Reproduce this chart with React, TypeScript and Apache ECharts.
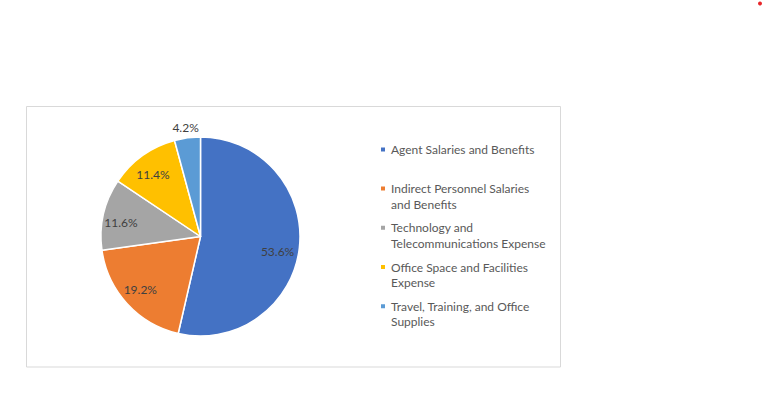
import React, { useEffect, useRef } from "react";
import * as echarts from "echarts";

const categories = [
  "Agent Salaries and Benefits",
  "Indirect Personnel Salaries and Benefits",
  "Technology and Telecommunications Expense",
  "Office Space and Facilities Expense",
  "Travel, Training, and Office Supplies",
];
const legendLines = [
  ["Agent Salaries and Benefits", " "],
  ["Indirect Personnel Salaries", "and Benefits"],
  ["Technology and", "Telecommunications Expense"],
  ["Office Space and Facilities", "Expense"],
  ["Travel, Training, and Office", "Supplies"],
];
const values = [53.6, 19.2, 11.6, 11.4, 4.2];
const colors = ["#4472C4", "#ED7D31", "#A5A5A5", "#FFC000", "#5B9BD5"];

const FONT = "Lato";
const LH = 15.6;
const CX = 200.5;
const CY = 236.5;
const R = 99.5;

export default function App() {
  const ref = useRef<HTMLDivElement>(null);
  useEffect(() => {
    if (!ref.current) return;
    const chart = echarts.init(ref.current, null, { renderer: "svg" });
    const data = categories.map((name, i) => ({
      name,
      value: values[i],
      itemStyle: { color: colors[i] },
    }));
    const labelFmt = (p: any) => p.value.toFixed(1) + "%";
    const clear = "rgba(255,255,255,0)";
    const labelStyle = {
      show: true,
      position: "inside",
      formatter: labelFmt,
      fontFamily: FONT,
      fontSize: 12,
      color: "#404040",
      offset: [0, 4],
    };
    const innerLabel = (i: number) => {
      if (i === 0) return { show: true, offset: [-4, 6] };
      if (i === 1) return { show: true, offset: [0, -2] };
      return { show: i < 4 };
    };
    chart.setOption({
      animation: false,
      backgroundColor: "#ffffff",
      graphic: [
        {
          type: "rect",
          shape: { x: 26.5, y: 106.5, width: 534, height: 260.5 },
          style: { fill: "none", stroke: "#d9d9d9", lineWidth: 1 },
          silent: true,
          z: -10,
        },
        {
          type: "circle",
          shape: { cx: 760, cy: 3.5, r: 2 },
          style: { fill: "#e8262a" },
          silent: true,
        },
      ],
      legend: {
        orient: "vertical",
        left: 379,
        top: 126,
        padding: 0,
        icon: "rect",
        itemWidth: 6,
        itemHeight: 6,
        itemGap: 39.2 - 3 * LH,
        selectedMode: false,
        textStyle: {
          fontFamily: FONT,
          fontSize: 12,
          color: "#595959",
          lineHeight: LH,
        },
        formatter: (name: string) =>
          [" "].concat(legendLines[categories.indexOf(name)]).join("\n"),
        data: categories,
      },
      series: [
        {
          type: "pie",
          center: [CX, CY],
          radius: [0, R],
          startAngle: 90,
          clockwise: true,
          silent: true,
          label: { show: false },
          labelLine: { show: false },
          itemStyle: { borderColor: "#ffffff", borderWidth: 1.5 },
          data,
        },
        {
          type: "pie",
          center: [CX, CY],
          radius: [R * 0.58, R],
          startAngle: 90,
          clockwise: true,
          silent: true,
          legendHoverLink: false,
          itemStyle: { color: clear },
          label: labelStyle,
          labelLine: { show: false },
          data: categories.map((name, i) => ({
            name: name + " ",
            value: values[i],
            label: innerLabel(i),
          })),
        },
        {
          type: "pie",
          center: [CX, CY],
          radius: [R, R + 22],
          startAngle: 90,
          clockwise: true,
          silent: true,
          legendHoverLink: false,
          itemStyle: { color: clear },
          label: labelStyle,
          labelLine: { show: false },
          data: categories.map((name, i) => ({
            name: name + "  ",
            value: values[i],
            label: { show: i === 4 },
          })),
        },
      ],
    });
    return () => chart.dispose();
  }, []);
  return (
    <div
      ref={ref}
      style={{ position: "absolute", left: 0, top: 0, width: 763, height: 395 }}
    />
  );
}
